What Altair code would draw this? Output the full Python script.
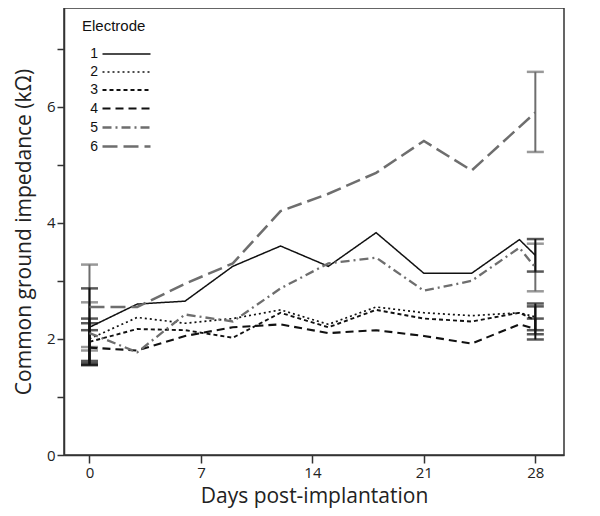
import altair as alt
import pandas as pd

days = [0, 3, 6, 9, 12, 15, 18, 21, 24, 27, 28]
e1 = [2.2, 2.6, 2.65, 3.25, 3.6, 3.25, 3.83, 3.13, 3.13, 3.71, 3.44]
e2 = [2.0, 2.37, 2.27, 2.35, 2.5, 2.25, 2.55, 2.45, 2.4, 2.45, 2.38]
e3 = [1.95, 2.17, 2.15, 2.02, 2.45, 2.2, 2.5, 2.35, 2.3, 2.45, 2.32]
e4 = [1.85, 1.8, 2.05, 2.2, 2.25, 2.1, 2.15, 2.05, 1.92, 2.25, 2.17]
e5 = [2.1, 1.77, 2.42, 2.3, 2.87, 3.3, 3.4, 2.83, 3.0, 3.57, 3.23]
e6 = [2.55, 2.55, 2.95, 3.3, 4.2, 4.5, 4.86, 5.41, 4.9, None, 5.9]

electrodes = ["1", "2", "3", "4", "5", "6"]
series = [e1, e2, e3, e4, e5, e6]
black_group = ["1", "2", "3", "4"]
gray_group = ["5", "6"]

# error bars at day 0 and day 28
err_day0_low = [1.58, 1.62, 1.55, 1.55, 1.80, 1.86]
err_day0_high = [2.87, 2.35, 2.27, 2.15, 2.63, 3.28]
err_day28_low = [3.16, 2.15, 2.08, 1.99, 2.82, 5.22]
err_day28_high = [3.72, 2.61, 2.56, 2.35, 3.64, 6.60]

BLACK = "#111111"
GRAY = "#6e6e6e"
line_colors = [BLACK, BLACK, BLACK, BLACK, GRAY, GRAY]
dashes = [[1, 0], [2, 3], [4, 3], [8, 5], [9, 4, 2, 4], [15, 6]]
widths = [1.5, 2.5, 2.5, 2.0, 2.0, 2.0]

rows = []
for name, vals in zip(electrodes, series):
    for d, v in zip(days, vals):
        if v is not None:
            rows.append({"day": d, "value": v, "electrode": name})
df = pd.DataFrame(rows)

err_rows = []
for i, name in enumerate(electrodes):
    err_rows.append({"day": 0, "low": err_day0_low[i], "high": err_day0_high[i], "electrode": name})
    err_rows.append({"day": 28, "low": err_day28_low[i], "high": err_day28_high[i], "electrode": name})
edf = pd.DataFrame(err_rows)

FONT = "Open Sans"

xscale = alt.Scale(domain=[-1.6, 29.8], nice=False, zero=False)
yscale = alt.Scale(domain=[0, 7.7], nice=False)
color_scale = alt.Scale(domain=electrodes, range=line_colors)

legend = alt.Legend(
    title="Electrode", orient="none", legendX=18, legendY=11,
    titleFont="Liberation Sans", titleFontSize=15, titleFontWeight="normal", titleColor="#111111",
    labelFont="Liberation Sans", labelFontSize=14, labelColor="#111111",
    symbolType="M-2.4,0H2.4", symbolSize=400, symbolStrokeWidth=1.8, symbolOffset=33,
    labelAlign="right", labelOffset={"expr": "-40"}, rowPadding=0, titlePadding=9,
    padding=0,
)

lines = alt.Chart(df).mark_line().encode(
    x=alt.X("day:Q", scale=xscale,
            axis=alt.Axis(values=[0, 7, 14, 21, 28], title="Days post-implantation",
                          grid=False, tickSize=8, labelFontSize=15, titleFontSize=21,
                          labelPadding=2, titlePadding=5)),
    y=alt.Y("value:Q", scale=yscale,
            axis=alt.Axis(values=[0, 1, 2, 3, 4, 5, 6, 7], format="d",
                          labelExpr="datum.value % 2 == 0 ? datum.label : ''",
                          title="Common ground impedance (kΩ)", grid=False, tickSize=7,
                          labelFontSize=15, titleFontSize=21, titlePadding=12)),
    color=alt.Color("electrode:N", scale=color_scale, legend=legend),
    strokeDash=alt.StrokeDash("electrode:N", scale=alt.Scale(domain=electrodes, range=dashes),
                              legend=legend),
    strokeWidth=alt.StrokeWidth("electrode:N", scale=alt.Scale(domain=electrodes, range=widths),
                                legend=None),
)


def error_layers(group, colour):
    base = alt.Chart(edf).transform_filter(
        alt.FieldOneOfPredicate(field="electrode", oneOf=group)
    )
    whisk = base.mark_rule(strokeWidth=2, color=colour).encode(
        x=alt.X("day:Q", scale=xscale),
        y=alt.Y("low:Q", scale=yscale),
        y2="high:Q",
    )
    lo = base.mark_tick(orient="horizontal", size=17, thickness=2.5, color=colour).encode(
        x=alt.X("day:Q", scale=xscale),
        y=alt.Y("low:Q", scale=yscale),
    )
    hi = base.mark_tick(orient="horizontal", size=17, thickness=2.5, color=colour).encode(
        x=alt.X("day:Q", scale=xscale),
        y=alt.Y("high:Q", scale=yscale),
    )
    return [whisk, lo, hi]


layers = error_layers(gray_group, GRAY) + error_layers(black_group, BLACK) + [lines]

chart = alt.layer(*layers).properties(
    width=500, height=447,
    padding={"left": 5, "top": 0, "right": 5, "bottom": 5},
).configure_view(
    stroke="#333333", strokeWidth=1.5
).configure_axis(
    labelFont=FONT, titleFont=FONT, labelColor="#222222", titleColor="#222222",
    domainColor="#333333", tickColor="#333333", domainWidth=1.5, tickWidth=1.5,
    titleFontWeight="normal"
)

chart.save("out.html", embed_options={"renderer": "svg", "actions": False})
